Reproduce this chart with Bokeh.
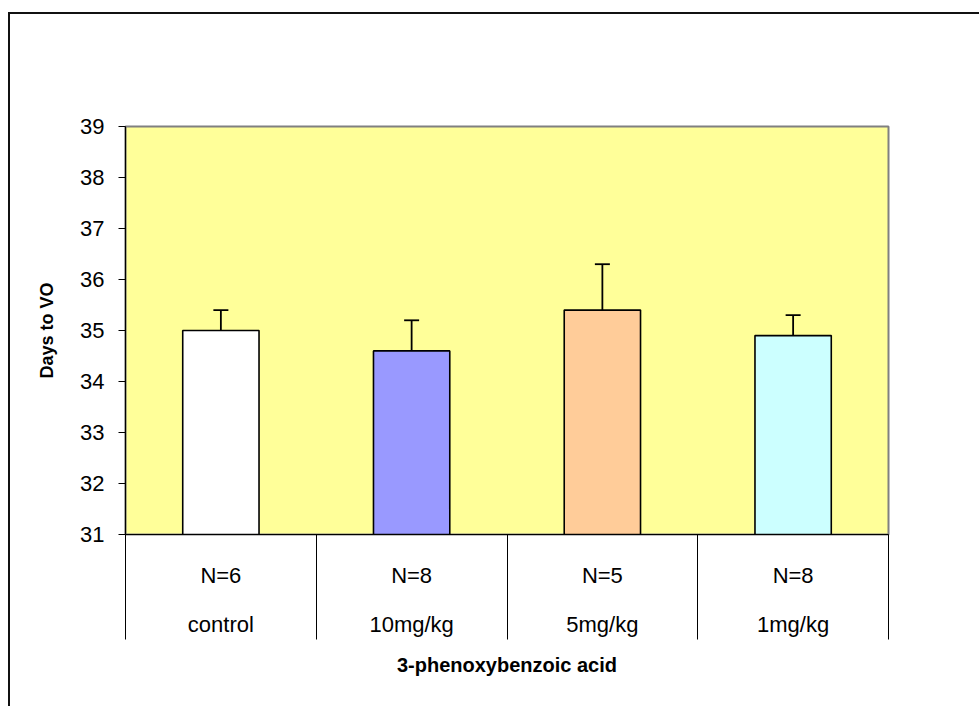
from bokeh.plotting import figure
from bokeh.models import Range1d, FixedTicker, Whisker, TeeHead, ColumnDataSource
from bokeh.embed import file_html
from bokeh.resources import INLINE

# ---- data ----
categories = ["control", "10mg/kg", "5mg/kg", "1mg/kg"]
n_labels = ["N=6", "N=8", "N=5", "N=8"]
means = [35.0, 34.6, 35.4, 34.9]
sems = [0.4, 0.6, 0.9, 0.4]
bar_colors = ["#FFFFFF", "#9999FF", "#FFCC99", "#CCFFFF"]
y_ticks = [31, 32, 33, 34, 35, 36, 37, 38, 39]
y_min, y_max = 31, 39

FONT = "Liberation Sans"

centers = [i + 0.5 for i in range(len(categories))]
bounds = [i for i in range(len(categories) + 1)]
uppers = [m + s for m, s in zip(means, sems)]

src = ColumnDataSource(dict(x=centers, top=means, color=bar_colors,
                            upper=uppers, lower=means))

p = figure(frame_width=763, frame_height=408,
           min_border_left=115, min_border_right=91,
           min_border_top=112, min_border_bottom=172,
           x_range=Range1d(0, len(categories)), y_range=Range1d(y_min, y_max),
           output_backend="svg", toolbar_location=None, tools="")

p.styles = {"margin-top": "12px", "margin-left": "8px",
            "border-top": "2px solid #111", "border-left": "2px solid #111"}

p.background_fill_color = "#FFFF99"
p.border_fill_color = "white"
p.outline_line_color = "#808080"
p.outline_line_width = 2
p.xgrid.visible = False
p.ygrid.visible = False

p.vbar(x="x", top="top", bottom=y_min, width=0.4, source=src,
       fill_color="color", line_color="black", line_width=1.6)

p.add_layout(Whisker(source=src, base="x", upper="upper", lower="lower",
                     dimension="height", line_color="black", line_width=1.8,
                     upper_head=TeeHead(size=15, line_color="black", line_width=1.8),
                     lower_head=None))

# y axis
yax = p.yaxis[0]
yax.ticker = FixedTicker(ticks=y_ticks, minor_ticks=[])
yax.axis_label = "Days to VO"
yax.axis_label_text_font = FONT
yax.axis_label_text_font_style = "bold"
yax.axis_label_text_font_size = "18px"
yax.axis_label_text_color = "black"
yax.axis_label_standoff = 20
yax.major_label_text_font = FONT
yax.major_label_text_font_size = "22px"
yax.major_label_text_color = "black"
yax.major_label_standoff = 14
yax.major_tick_out = 7
yax.major_tick_in = 0
yax.minor_tick_out = 0
yax.minor_tick_in = 0
yax.axis_line_color = "black"
yax.axis_line_width = 1.2
yax.major_tick_line_color = "black"

# x axis: labels at centres, separators at category boundaries
xax = p.xaxis[0]
xax.ticker = FixedTicker(ticks=centers, minor_ticks=bounds)
xax.major_label_overrides = {c: f"{n}\n\n{cat}" for c, n, cat in zip(centers, n_labels, categories)}
xax.major_label_text_font = FONT
xax.major_label_text_font_size = "22px"
xax.major_label_text_color = "black"
xax.major_label_text_line_height = 0.98
xax.major_label_standoff = -77
xax.major_tick_out = 0
xax.major_tick_in = 0
xax.minor_tick_out = 105
xax.minor_tick_in = 0
xax.minor_tick_line_color = "black"
xax.minor_tick_line_width = 1
xax.axis_line_color = "black"
xax.axis_line_width = 1.2
xax.axis_label = "3-phenoxybenzoic acid"
xax.axis_label_text_font = FONT
xax.axis_label_text_font_style = "bold"
xax.axis_label_text_font_size = "20px"
xax.axis_label_text_color = "black"
xax.axis_label_standoff = 14

open("out.html", "w").write(file_html(p, INLINE))
